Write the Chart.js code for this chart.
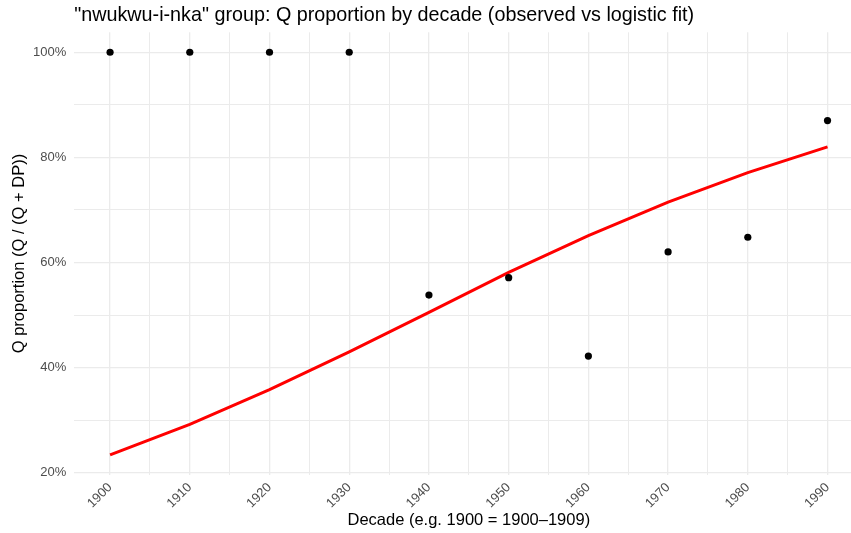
<!DOCTYPE html>
<html>
<head>
<meta charset="utf-8">
<script src="https://cdn.jsdelivr.net/npm/chart.js@4/dist/chart.umd.min.js"></script>
<style>
  html, body { margin: 0; padding: 0; background: #ffffff; overflow: hidden; }
  #wrap { width: 867px; height: 533px; }
</style>
</head>
<body>
<div id="wrap"><canvas id="c" width="867" height="533"></canvas></div>
<script>
// ---- data ----
const decades = [1900, 1910, 1920, 1930, 1940, 1950, 1960, 1970, 1980, 1990];
const observedPct = [100, 100, 100, 100, 53.8, 57.1, 42.2, 62.0, 64.8, 87.0];
const fittedPct = [23.4, 29.2, 35.8, 43.0, 50.5, 58.1, 65.1, 71.5, 77.1, 82.0];
const xGridTicks = [1900, 1905, 1910, 1915, 1920, 1925, 1930, 1935, 1940, 1945, 1950, 1955, 1960, 1965, 1970, 1975, 1980, 1985, 1990];
const xLabelTicks = [1900, 1910, 1920, 1930, 1940, 1950, 1960, 1970, 1980, 1990];
const yGridTicks = [20, 30, 40, 50, 60, 70, 80, 90, 100];
const yLabelTicks = [20, 40, 60, 80, 100];

const titleText = '"nwukwu-i-nka" group: Q proportion by decade (observed vs logistic fit)';
const xTitle = 'Decade (e.g. 1900 = 1900\u20131909)';
const yTitle = 'Q proportion (Q / (Q + DP))';

const FONT = "'Liberation Sans', Arial, Helvetica, sans-serif";

const observedPts = decades.map((d, i) => ({ x: d, y: observedPct[i] }));
const fittedPts = decades.map((d, i) => ({ x: d, y: fittedPct[i] }));

new Chart(document.getElementById('c'), {
  type: 'scatter',
  data: {
    datasets: [
      {
        label: 'Observed',
        data: observedPts,
        backgroundColor: '#000000',
        borderColor: '#000000',
        pointRadius: 3.6,
        pointHoverRadius: 3.6,
        borderWidth: 0
      },
      {
        type: 'line',
        label: 'Logistic fit',
        data: fittedPts,
        borderColor: '#FF0000',
        backgroundColor: '#FF0000',
        borderWidth: 3,
        pointRadius: 0,
        tension: 0,
        fill: false
      }
    ]
  },
  options: {
    responsive: false,
    animation: false,
    layout: { padding: 0 },
    plugins: {
      legend: { display: false },
      tooltip: { enabled: false },
      title: {
        display: true,
        text: titleText,
        align: 'start',
        fullSize: false,
        color: '#000000',
        font: { family: FONT, size: 19.75, weight: 'normal', lineHeight: 1.2 },
        padding: { top: 4, bottom: 4.6 }
      }
    },
    scales: {
      x: {
        type: 'linear',
        min: 1895.5,
        max: 1994.5,
        border: { display: false },
        afterBuildTicks: (s) => { s.ticks = xGridTicks.map(v => ({ value: v })); },
        afterFit: (s) => { s.height = 58.2; s.paddingLeft = 0; s.paddingRight = 0; },
        grid: {
          color: '#EBEBEB',
          lineWidth: (ctx) => (ctx.tick && xLabelTicks.includes(ctx.tick.value)) ? 1.3 : 1,
          drawTicks: false
        },
        ticks: {
          autoSkip: false,
          maxRotation: 45,
          minRotation: 45,
          padding: 5,
          color: '#4D4D4D',
          font: { family: FONT, size: 13 },
          callback: (v) => xLabelTicks.includes(v) ? String(v) : ''
        },
        title: {
          display: true,
          text: xTitle,
          color: '#000000',
          font: { family: FONT, size: 16.5 },
          padding: { top: 0, bottom: 3 }
        }
      },
      y: {
        type: 'linear',
        min: 19.6,
        max: 103.8,
        border: { display: false },
        afterBuildTicks: (s) => { s.ticks = yGridTicks.map(v => ({ value: v })); },
        afterFit: (s) => { s.width = 74.2; s.paddingTop = 0; s.paddingBottom = 0; },
        grid: {
          color: '#EBEBEB',
          lineWidth: (ctx) => (ctx.tick && yLabelTicks.includes(ctx.tick.value)) ? 1.3 : 1,
          drawTicks: false
        },
        ticks: {
          padding: 8,
          color: '#4D4D4D',
          font: { family: FONT, size: 13 },
          callback: (v) => yLabelTicks.includes(v) ? v + '%' : ''
        },
        title: {
          display: true,
          text: yTitle,
          color: '#000000',
          font: { family: FONT, size: 16.5 },
          padding: { top: 10, bottom: 0 }
        }
      }
    }
  }
});
</script>
</body>
</html>
